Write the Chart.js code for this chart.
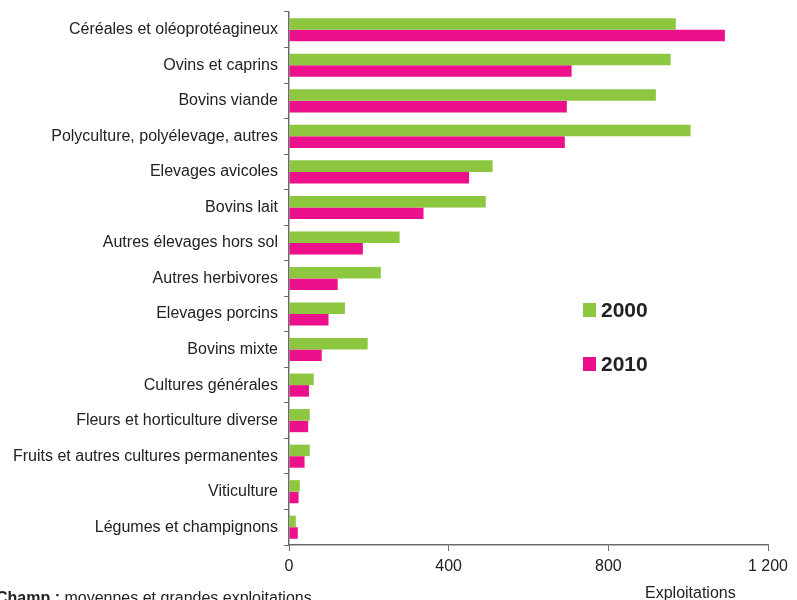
<!DOCTYPE html>
<html>
<head>
<meta charset="utf-8">
<script src="https://cdn.jsdelivr.net/npm/chart.js@4/dist/chart.umd.min.js"></script>
<style>
  body { margin: 0; background: #fff; }
  #wrap { position: relative; width: 797px; height: 600px; overflow: hidden; }
</style>
</head>
<body>
<div id="wrap"><canvas id="orientationChart" width="797" height="600"></canvas></div>
<script>
// Catégories (orientation technico-économique)
const categories = [
    'Céréales et oléoprotéagineux',
    'Ovins et caprins',
    'Bovins viande',
    'Polyculture, polyélevage, autres',
    'Elevages avicoles',
    'Bovins lait',
    'Autres élevages hors sol',
    'Autres herbivores',
    'Elevages porcins',
    'Bovins mixte',
    'Cultures générales',
    'Fleurs et horticulture diverse',
    'Fruits et autres cultures permanentes',
    'Viticulture',
    'Légumes et champignons'
];

// Nombre d'exploitations
const values2000 = [969, 956, 919, 1006, 510, 493, 277, 230, 140, 197, 62, 52, 52, 27, 17];
const values2010 = [1092, 708, 696, 691, 451, 337, 185, 122, 99, 82, 50, 48, 39, 24, 22];

const seriesLabels = ['2000', '2010'];
const xTicks = [0, 400, 800, 1200];

const green = '#8DC63F';
const magenta = '#EC108C';
const axisColor = '#6b6b6b';

// Légende et notes dessinées dans le canvas
const extraText = {
    id: 'extraText',
    afterDraw(chart) {
        const ctx = chart.ctx;
        ctx.save();
        // légende
        const items = [
            { y: 310, color: chart.data.datasets[0].backgroundColor, text: chart.data.datasets[0].label },
            { y: 364, color: chart.data.datasets[1].backgroundColor, text: chart.data.datasets[1].label }
        ];
        items.forEach(it => {
            ctx.fillStyle = it.color;
            ctx.fillRect(583, it.y - 7, 13, 14);
            ctx.fillStyle = '#222';
            ctx.font = 'bold 21px "Liberation Sans", Arial, sans-serif';
            ctx.textBaseline = 'middle';
            ctx.textAlign = 'left';
            ctx.fillText(it.text, 601, it.y + 1);
        });
        // titre de l'axe
        ctx.font = '16px "Liberation Sans", Arial, sans-serif';
        ctx.fillStyle = '#222';
        ctx.textAlign = 'left';
        ctx.textBaseline = 'alphabetic';
        ctx.fillText('Exploitations', 645, 598);
        // champ
        ctx.font = 'bold 16px "Liberation Sans", Arial, sans-serif';
        ctx.fillText('Champ :', -4, 603);
        const w = ctx.measureText('Champ : ').width;
        ctx.font = '16px "Liberation Sans", Arial, sans-serif';
        ctx.fillText('moyennes et grandes exploitations', -4 + w, 603);
        ctx.restore();
    }
};

const config = {
    type: 'bar',
    data: {
        labels: categories,
        datasets: [
            {
                label: seriesLabels[0],
                data: values2000,
                backgroundColor: green,
                borderWidth: 0,
                categoryPercentage: 0.65,
                barPercentage: 1.0
            },
            {
                label: seriesLabels[1],
                data: values2010,
                backgroundColor: magenta,
                borderWidth: 0,
                categoryPercentage: 0.65,
                barPercentage: 1.0
            }
        ]
    },
    options: {
        indexAxis: 'y',
        responsive: false,
        animation: false,
        layout: {
            padding: { top: 12, right: 29, left: 0, bottom: 0 }
        },
        scales: {
            x: {
                min: 0,
                max: 1200,
                afterBuildTicks: scale => {
                    scale.ticks = xTicks.map(v => ({ value: v }));
                },
                afterFit: scale => { scale.height = 55; },
                ticks: {
                    color: '#222',
                    padding: 6,
                    maxRotation: 0,
                    font: { family: '"Liberation Sans", Arial, sans-serif', size: 16 },
                    callback: v => v >= 1000 ? Math.floor(v / 1000) + ' ' + String(v % 1000).padStart(3, '0') : String(v)
                },
                grid: {
                    drawOnChartArea: false,
                    drawTicks: true,
                    tickLength: 6,
                    color: axisColor
                },
                border: { color: axisColor, width: 1.5 }
            },
            y: {
                afterFit: scale => {
                    scale.width = 289;
                    scale.paddingTop = 0;
                    scale.paddingBottom = 0;
                },
                ticks: {
                    color: '#222',
                    padding: 6,
                    autoSkip: false,
                    font: { family: '"Liberation Sans", Arial, sans-serif', size: 16 }
                },
                grid: {
                    drawOnChartArea: false,
                    drawTicks: true,
                    tickLength: 5,
                    offset: true,
                    color: axisColor
                },
                border: { color: axisColor, width: 1.5 }
            }
        },
        plugins: {
            legend: { display: false },
            tooltip: { enabled: false }
        }
    },
    plugins: [extraText]
};

const orientationChart = new Chart(document.getElementById('orientationChart'), config);
</script>
</body>
</html>
